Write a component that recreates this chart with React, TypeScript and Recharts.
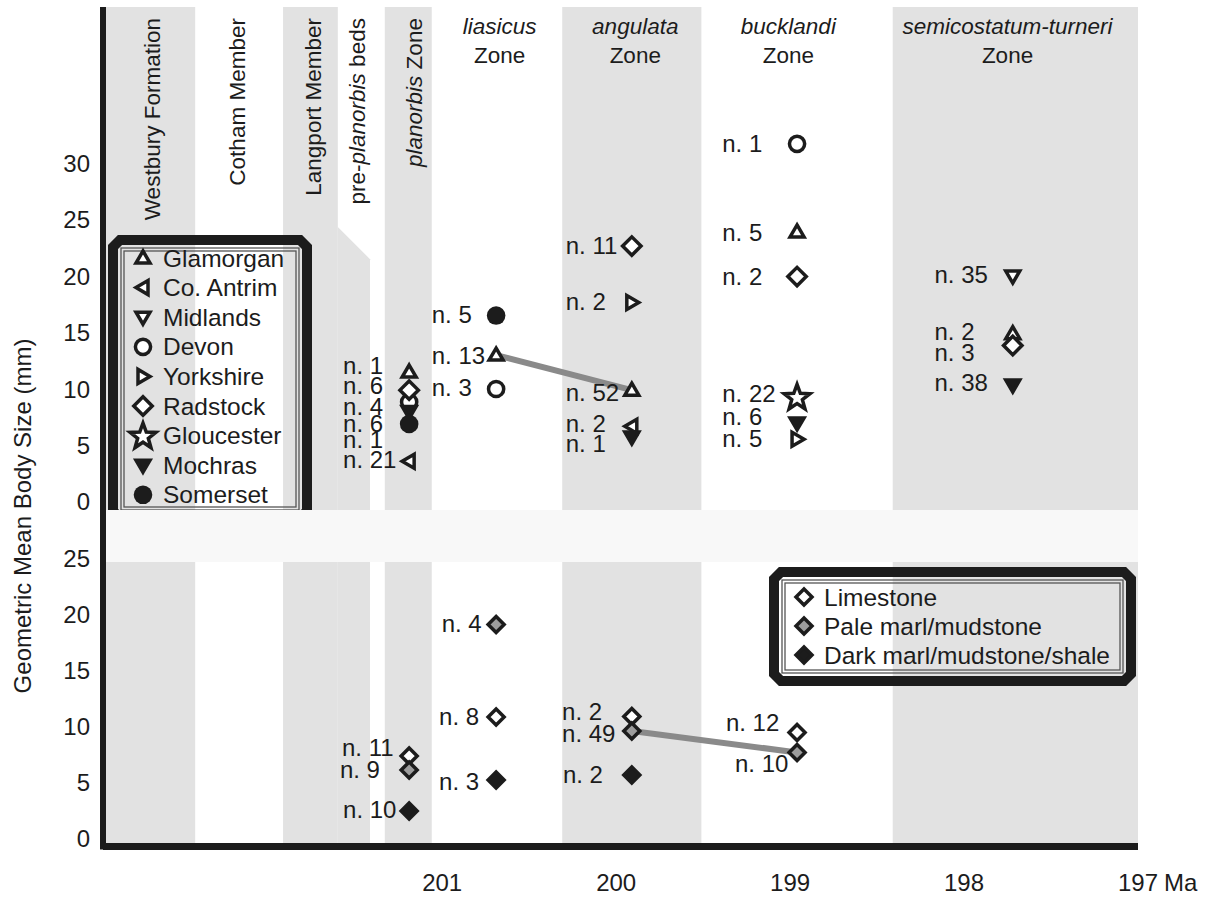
import { ScatterChart, Scatter, XAxis, YAxis, ReferenceArea, Legend } from 'recharts';

const INK = '#1c1c1c';
const BAND = '#e2e2e2';
const FONT = '"Liberation Sans", Arial, Helvetica, sans-serif';

// time axis in Ma, older to the left
const TIME_DOMAIN: [number, number] = [197, 202.95];
const TIME_TICKS = [201, 200, 199, 198, 197];

const TOP_DOMAIN: [number, number] = [-0.71, 43.81];
const TOP_TICKS = [0, 5, 10, 15, 20, 25, 30];
const BOTTOM_DOMAIN: [number, number] = [-0.67, 29.27];
const BOTTOM_TICKS = [0, 5, 10, 15, 20, 25];
const BOTTOM_BAND_TOP = 24.64;

// sampled levels (Ma)
const PLANORBIS = 201.19;
const LIASICUS = 200.69;
const ANGULATA = 199.91;
const BUCKLANDI = 198.96;
const SEMICOSTATUM = 197.72;

// shaded units (Ma); pre-planorbis band has a slanted top in the upper panel
const BANDS = [
  { name: 'Westbury Formation', from: 202.95, to: 202.42 },
  { name: 'Langport Member', from: 201.915, to: 201.6 },
  { name: 'pre-planorbis beds', from: 201.6, to: 201.415, top: 24.34 },
  { name: 'planorbis Zone', from: 201.33, to: 201.06 },
  { name: 'angulata Zone', from: 200.31, to: 199.51 },
  { name: 'semicostatum-turneri Zone', from: 198.41, to: 197 },
];

const HEADERS = [
  { x: 202.67, y: 42.83, vertical: true, parts: [{ t: 'Westbury Formation' }] },
  { x: 202.18, y: 42.83, vertical: true, parts: [{ t: 'Cotham Member' }] },
  { x: 201.74, y: 42.83, vertical: true, parts: [{ t: 'Langport Member' }] },
  { x: 201.49, y: 42.83, vertical: true, parts: [{ t: 'pre-' }, { t: 'planorbis', i: true }, { t: ' beds' }] },
  { x: 201.16, y: 42.83, vertical: true, parts: [{ t: 'planorbis', i: true }, { t: ' Zone' }] },
  { x: 200.67, y: 41.42, vertical: false, parts: [{ t: 'liasicus', i: true }], line2: 'Zone' },
  { x: 199.89, y: 41.42, vertical: false, parts: [{ t: 'angulata', i: true }], line2: 'Zone' },
  { x: 199.01, y: 41.42, vertical: false, parts: [{ t: 'bucklandi', i: true }], line2: 'Zone' },
  { x: 197.75, y: 41.42, vertical: false, parts: [{ t: 'semicostatum-turneri', i: true }], line2: 'Zone' },
];

// upper panel: geometric mean body size by region (mm)
const GLAMORGAN = [
  { x: PLANORBIS, y: 11.5 },
  { x: LIASICUS, y: 13.0 },
  { x: ANGULATA, y: 9.9 },
  { x: BUCKLANDI, y: 23.9 },
  { x: SEMICOSTATUM, y: 14.9 },
];
const CO_ANTRIM = [
  { x: PLANORBIS, y: 3.6 },
  { x: ANGULATA, y: 6.7 },
];
const MIDLANDS = [{ x: SEMICOSTATUM, y: 20.0 }];
const DEVON = [
  { x: PLANORBIS, y: 8.85 },
  { x: LIASICUS, y: 10.0 },
  { x: BUCKLANDI, y: 31.7 },
];
const YORKSHIRE = [
  { x: ANGULATA, y: 17.65 },
  { x: BUCKLANDI, y: 5.55 },
];
const RADSTOCK = [
  { x: PLANORBIS, y: 9.9 },
  { x: ANGULATA, y: 22.65 },
  { x: BUCKLANDI, y: 19.95 },
  { x: SEMICOSTATUM, y: 13.85 },
];
const GLOUCESTER = [{ x: BUCKLANDI, y: 9.3 }];
const MOCHRAS = [
  { x: PLANORBIS, y: 8.0 },
  { x: ANGULATA, y: 5.75 },
  { x: BUCKLANDI, y: 7.0 },
  { x: SEMICOSTATUM, y: 10.35 },
];
const SOMERSET = [
  { x: PLANORBIS, y: 6.9 },
  { x: LIASICUS, y: 16.5 },
];

const REGIONS = [
  { name: 'Glamorgan', kind: 'triUp', data: GLAMORGAN },
  { name: 'Co. Antrim', kind: 'triLeft', data: CO_ANTRIM },
  { name: 'Midlands', kind: 'triDown', data: MIDLANDS },
  { name: 'Devon', kind: 'circle', data: DEVON },
  { name: 'Yorkshire', kind: 'triRight', data: YORKSHIRE },
  { name: 'Radstock', kind: 'diamond', data: RADSTOCK },
  { name: 'Gloucester', kind: 'star', data: GLOUCESTER },
  { name: 'Mochras', kind: 'triDownFill', data: MOCHRAS },
  { name: 'Somerset', kind: 'dot', data: SOMERSET },
];

const TOP_LINK = [GLAMORGAN[1], GLAMORGAN[2]];

const TOP_LABELS = [
  { x: 201.57, y: 12.12, text: 'n. 1' },
  { x: 201.57, y: 10.35, text: 'n. 6' },
  { x: 201.57, y: 8.41, text: 'n. 4' },
  { x: 201.57, y: 6.99, text: 'n. 6' },
  { x: 201.57, y: 5.49, text: 'n. 1' },
  { x: 201.57, y: 3.72, text: 'n. 21' },
  { x: 201.06, y: 16.55, text: 'n. 5' },
  { x: 201.06, y: 13.0, text: 'n. 13' },
  { x: 201.06, y: 10.09, text: 'n. 3' },
  { x: 200.29, y: 22.74, text: 'n. 11' },
  { x: 200.29, y: 17.7, text: 'n. 2' },
  { x: 200.29, y: 9.73, text: 'n. 52' },
  { x: 200.29, y: 6.99, text: 'n. 2' },
  { x: 200.29, y: 5.22, text: 'n. 1' },
  { x: 199.39, y: 31.72, text: 'n. 1' },
  { x: 199.39, y: 23.85, text: 'n. 5' },
  { x: 199.39, y: 20.0, text: 'n. 2' },
  { x: 199.39, y: 9.56, text: 'n. 22' },
  { x: 199.39, y: 7.55, text: 'n. 6' },
  { x: 199.39, y: 5.64, text: 'n. 5' },
  { x: 198.17, y: 20.15, text: 'n. 35' },
  { x: 198.17, y: 15.1, text: 'n. 2' },
  { x: 198.17, y: 13.2, text: 'n. 3' },
  { x: 198.17, y: 10.6, text: 'n. 38' },
];

// lower panel: body size by lithology (mm)
const LIMESTONE = [
  { x: PLANORBIS, y: 7.38 },
  { x: LIASICUS, y: 10.85 },
  { x: ANGULATA, y: 10.9 },
  { x: BUCKLANDI, y: 9.48 },
];
const PALE_MARL = [
  { x: PLANORBIS, y: 6.14 },
  { x: LIASICUS, y: 19.08 },
  { x: ANGULATA, y: 9.6 },
  { x: BUCKLANDI, y: 7.7 },
];
const DARK_MARL = [
  { x: PLANORBIS, y: 2.49 },
  { x: LIASICUS, y: 5.25 },
  { x: ANGULATA, y: 5.7 },
];

const LITHOLOGIES = [
  { name: 'Limestone', kind: 'lime', data: LIMESTONE },
  { name: 'Pale marl/mudstone', kind: 'pale', data: PALE_MARL },
  { name: 'Dark marl/mudstone/shale', kind: 'dark', data: DARK_MARL },
];

const BOTTOM_LINK = [PALE_MARL[2], PALE_MARL[3]];

const BOTTOM_LABELS = [
  { x: 201.576, y: 8.14, text: 'n. 11' },
  { x: 201.588, y: 6.14, text: 'n. 9' },
  { x: 201.57, y: 2.58, text: 'n. 10' },
  { x: 201.003, y: 19.2, text: 'n. 4' },
  { x: 201.018, y: 10.9, text: 'n. 8' },
  { x: 201.018, y: 5.07, text: 'n. 3' },
  { x: 200.311, y: 11.3, text: 'n. 2' },
  { x: 200.311, y: 9.34, text: 'n. 49' },
  { x: 200.306, y: 5.74, text: 'n. 2' },
  { x: 199.369, y: 10.4, text: 'n. 12' },
  { x: 199.317, y: 6.72, text: 'n. 10' },
];

function Marker({ kind, cx, cy }: { kind: string; cx: number; cy: number }) {
  const line = { stroke: INK, strokeWidth: 3.5, strokeLinejoin: 'miter' as const };
  const poly = (pts: number[][], fill: string) => (
    <polygon points={pts.map(([dx, dy]) => `${cx + dx},${cy + dy}`).join(' ')} fill={fill} {...line} />
  );
  switch (kind) {
    case 'triUp':
      return poly([[0, -7], [7, 5], [-7, 5]], '#fff');
    case 'triDown':
      return poly([[0, 7], [7, -5], [-7, -5]], '#fff');
    case 'triDownFill':
      return poly([[0, 7], [7, -5], [-7, -5]], INK);
    case 'triLeft':
      return poly([[-7, 0], [5, -7], [5, 7]], '#fff');
    case 'triRight':
      return poly([[7, 0], [-5, -7], [-5, 7]], '#fff');
    case 'circle':
      return <circle cx={cx} cy={cy} r={7.6} fill="#fff" {...line} />;
    case 'dot':
      return <circle cx={cx} cy={cy} r={9.3} fill={INK} />;
    case 'diamond':
      return poly([[0, -9.2], [9.2, 0], [0, 9.2], [-9.2, 0]], '#fff');
    case 'star': {
      const pts = Array.from({ length: 10 }, (_, k) => {
        const a = -Math.PI / 2 + (k * Math.PI) / 5;
        const r = k % 2 === 0 ? 13.5 : 5.6;
        return [r * Math.cos(a), r * Math.sin(a) + 1];
      });
      return poly(pts, '#fff');
    }
    case 'lime':
      return poly([[0, -8], [8, 0], [0, 8], [-8, 0]], '#fff');
    case 'pale':
      return poly([[0, -8], [8, 0], [0, 8], [-8, 0]], '#9d9d9d');
    case 'dark':
      return poly([[0, -8], [8, 0], [0, 8], [-8, 0]], INK);
    default:
      return null;
  }
}

function NLabel(p: any) {
  return (
    <text x={p.cx} y={p.cy} dominantBaseline="central" fontSize={24} fill={INK}>
      {p.payload.text}
    </text>
  );
}

function Header(p: any) {
  const h = p.payload;
  const spans = h.parts.map((s: any, i: number) => (
    <tspan key={i} fontStyle={s.i ? 'italic' : 'normal'}>
      {s.t}
    </tspan>
  ));
  if (h.vertical) {
    return (
      <text
        x={p.cx}
        y={p.cy}
        transform={`rotate(-90 ${p.cx} ${p.cy})`}
        textAnchor="end"
        dominantBaseline="central"
        fontSize={22.5}
        fill={INK}
      >
        {spans}
      </text>
    );
  }
  return (
    <text x={p.cx} y={p.cy} textAnchor="middle" fontSize={22.5} fill={INK}>
      {spans}
      <tspan x={p.cx} dy={29}>
        {h.line2}
      </tspan>
    </text>
  );
}

function SlantedBand(p: any) {
  const { x, y, width, height, fill } = p;
  return (
    <polygon
      points={`${x},${y} ${x + width},${y + width} ${x + width},${y + height} ${x},${y + height}`}
      fill={fill}
    />
  );
}

function Frame({ w, h }: { w: number; h: number }) {
  const c = 12;
  const o = 5;
  const pts = [
    [c, o], [w - c, o], [w - o, c], [w - o, h - c],
    [w - c, h - o], [c, h - o], [o, h - c], [o, c],
  ];
  return (
    <g>
      <polygon points={pts.map((q) => q.join(',')).join(' ')} fill="none" stroke={INK} strokeWidth={10} />
      <rect x={13} y={13} width={w - 26} height={h - 26} fill="none" stroke="#555" strokeWidth={1.3} />
      <rect x={16} y={16} width={w - 32} height={h - 32} fill="none" stroke="#555" strokeWidth={1.3} />
    </g>
  );
}

function BoxLegend({ items, w, h, first, step }: any) {
  return (
    <svg width={w} height={h} style={{ display: 'block', overflow: 'visible' }}>
      <Frame w={w} h={h} />
      {items.map((it: any, i: number) => (
        <g key={it.name}>
          <Marker kind={it.kind} cx={35} cy={first + i * step} />
          <text x={55} y={first + i * step} dominantBaseline="central" fontSize={24.5} fill={INK}>
            {it.name}
          </text>
        </g>
      ))}
    </svg>
  );
}

function TimeTick(p: any) {
  const v = p.payload.value;
  return (
    <g>
      <text x={p.x} y={p.y} dy="0.71em" textAnchor="middle" fontSize={24} fill={INK}>
        {v}
      </text>
      {v === 197 && (
        <text x={p.x + 26} y={p.y} dy="0.71em" textAnchor="start" fontSize={24} fill={INK}>
          Ma
        </text>
      )}
    </g>
  );
}

function AxisTitle() {
  return (
    <text
      x={22}
      y={516}
      transform="rotate(-90 22 516)"
      textAnchor="middle"
      dominantBaseline="central"
      fontSize={24}
      fill={INK}
    >
      Geometric Mean Body Size (mm)
    </text>
  );
}

export default function App() {
  return (
    <div
      style={{
        position: 'absolute',
        left: 0,
        top: 0,
        width: 1212,
        height: 897,
        background: '#fff',
        fontFamily: FONT,
      }}
    >
      <style>{'.recharts-surface{overflow:visible}'}</style>

      <div style={{ position: 'absolute', left: 0, top: 0 }}>
        <ScatterChart width={1212} height={510} margin={{ top: 7, right: 74, bottom: 0, left: 43 }}>
          <XAxis hide type="number" dataKey="x" domain={TIME_DOMAIN} reversed allowDataOverflow />
          <YAxis
            type="number"
            dataKey="y"
            domain={TOP_DOMAIN}
            ticks={TOP_TICKS}
            interval={0}
            allowDataOverflow
            width={60}
            tickSize={0}
            tickMargin={13}
            tickLine={false}
            axisLine={{ stroke: INK, strokeWidth: 6 }}
            tick={{ fill: INK, fontSize: 24 }}
            label={() => <AxisTitle />}
          />
          {BANDS.map((b) =>
            b.top ? (
              <ReferenceArea
                key={b.name}
                x1={b.from}
                x2={b.to}
                y1={TOP_DOMAIN[0]}
                y2={b.top}
                fill={BAND}
                fillOpacity={1}
                stroke="none"
                ifOverflow="hidden"
                shape={SlantedBand}
              />
            ) : (
              <ReferenceArea
                key={b.name}
                x1={b.from}
                x2={b.to}
                y1={TOP_DOMAIN[0]}
                y2={TOP_DOMAIN[1]}
                fill={BAND}
                fillOpacity={1}
                stroke="none"
                ifOverflow="hidden"
              />
            )
          )}
          <Scatter data={HEADERS} shape={Header} legendType="none" isAnimationActive={false} />
          <Scatter
            data={TOP_LINK}
            line={{ stroke: '#8a8a8a', strokeWidth: 6 }}
            shape={() => <g />}
            legendType="none"
            isAnimationActive={false}
          />
          {REGIONS.map((r) => (
            <Scatter
              key={r.name}
              name={r.name}
              data={r.data}
              shape={(p: any) => <Marker kind={r.kind} cx={p.cx} cy={p.cy} />}
              isAnimationActive={false}
            />
          ))}
          <Scatter data={TOP_LABELS} shape={NLabel} legendType="none" isAnimationActive={false} />
          <Legend
            layout="horizontal"
            verticalAlign="middle"
            align="center"
            wrapperStyle={{ left: 108, top: 235, width: 204, height: 288 }}
            content={() => <BoxLegend items={REGIONS} w={204} h={288} first={23} step={29.6} />}
          />
        </ScatterChart>
      </div>

      <div style={{ position: 'absolute', left: 0, top: 510 }}>
        <ScatterChart width={1212} height={387} margin={{ top: 0, right: 74, bottom: 10.5, left: 43 }}>
          <XAxis
            type="number"
            dataKey="x"
            domain={TIME_DOMAIN}
            reversed
            allowDataOverflow
            ticks={TIME_TICKS}
            interval={0}
            height={40}
            tickSize={0}
            tickMargin={27}
            tickLine={false}
            axisLine={{ stroke: INK, strokeWidth: 7 }}
            tick={<TimeTick />}
          />
          <YAxis
            type="number"
            dataKey="y"
            domain={BOTTOM_DOMAIN}
            ticks={BOTTOM_TICKS}
            interval={0}
            allowDataOverflow
            width={60}
            tickSize={0}
            tickMargin={13}
            tickLine={false}
            axisLine={{ stroke: INK, strokeWidth: 6, strokeLinecap: 'square' }}
            tick={{ fill: INK, fontSize: 24 }}
          />
          <ReferenceArea
            x1={TIME_DOMAIN[1]}
            x2={TIME_DOMAIN[0]}
            y1={BOTTOM_BAND_TOP}
            y2={BOTTOM_DOMAIN[1]}
            fill="#f8f8f8"
            fillOpacity={1}
            stroke="none"
            ifOverflow="hidden"
          />
          {BANDS.map((b) => (
            <ReferenceArea
              key={b.name}
              x1={b.from}
              x2={b.to}
              y1={BOTTOM_DOMAIN[0]}
              y2={BOTTOM_BAND_TOP}
              fill={BAND}
              fillOpacity={1}
              stroke="none"
              ifOverflow="hidden"
            />
          ))}
          <Scatter
            data={BOTTOM_LINK}
            line={{ stroke: '#8a8a8a', strokeWidth: 6 }}
            shape={() => <g />}
            legendType="none"
            isAnimationActive={false}
          />
          {LITHOLOGIES.map((l) => (
            <Scatter
              key={l.name}
              name={l.name}
              data={l.data}
              shape={(p: any) => <Marker kind={l.kind} cx={p.cx} cy={p.cy} />}
              isAnimationActive={false}
            />
          ))}
          <Scatter data={BOTTOM_LABELS} shape={NLabel} legendType="none" isAnimationActive={false} />
          <Legend
            layout="horizontal"
            verticalAlign="middle"
            align="center"
            wrapperStyle={{ left: 769, top: 57, width: 367, height: 119 }}
            content={() => <BoxLegend items={LITHOLOGIES} w={367} h={119} first={30} step={29} />}
          />
        </ScatterChart>
      </div>
    </div>
  );
}
